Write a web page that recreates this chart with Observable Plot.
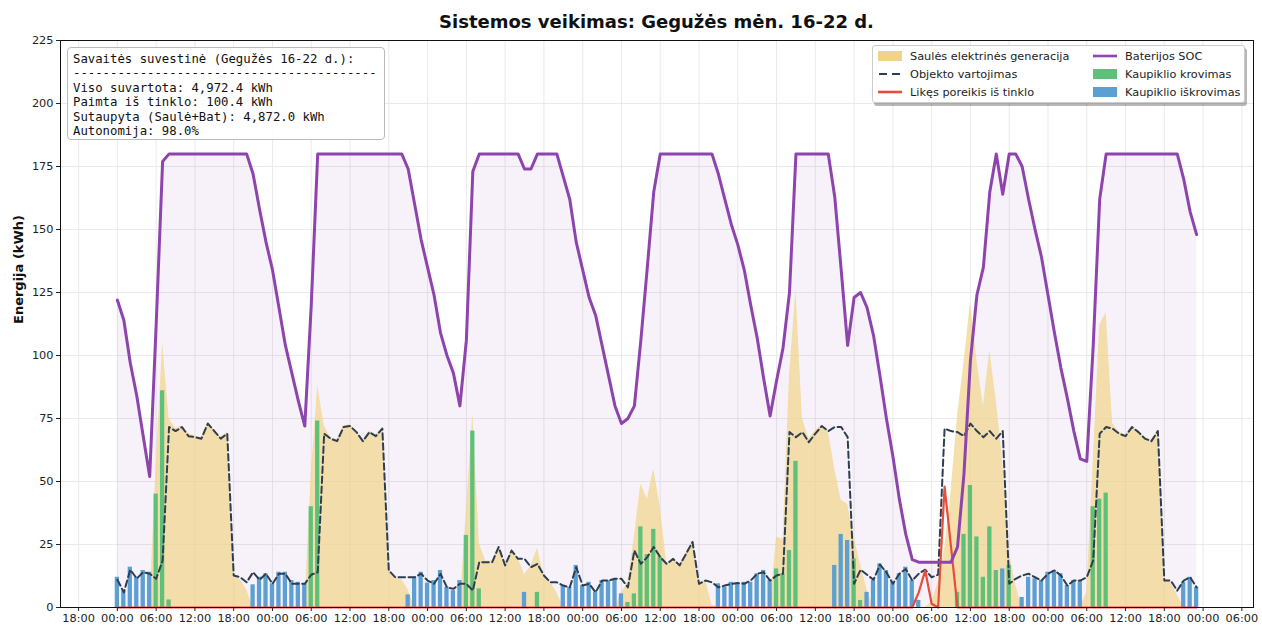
<!DOCTYPE html>
<html><head><meta charset="utf-8">
<script src="https://cdn.jsdelivr.net/npm/d3@7"></script>
<script src="https://cdn.jsdelivr.net/npm/@observablehq/plot@0.6"></script>
<style>
body{margin:0;background:#fff;font-family:"DejaVu Sans",sans-serif;}
#wrap{position:relative;width:1262px;height:625px;overflow:hidden;}
#title{height:32px;box-sizing:border-box;padding-top:10px;margin-left:60px;width:1193px;text-align:center;font-weight:bold;font-size:18px;line-height:24px;color:#111;white-space:nowrap;overflow:visible;}
#summary{position:absolute;left:67px;top:47px;width:318px;height:93px;box-sizing:border-box;border:1px solid #bbb;border-radius:4px;background:rgba(255,255,255,0.9);padding:4px 5px;font-family:"DejaVu Sans Mono",monospace;font-size:12.3px;line-height:14.4px;white-space:pre;color:#111;}
#legend{position:absolute;left:872px;top:45px;width:373px;height:58px;box-sizing:border-box;border:1px solid #ccc;border-radius:3px;background:#fff;box-shadow:2px 3px 0 rgba(0,0,0,0.28);font-size:11.3px;color:#222;}
.li{position:absolute;height:18px;display:flex;align-items:center;white-space:nowrap;}
.h{width:24px;height:18px;margin-right:8px;position:relative;}
</style></head><body>
<div id="wrap">
<div id="title"></div>
<div id="chart"></div>
<div id="summary"></div>
<div id="legend"></div>
</div>
<script>
// hourly values, 16-22 May (24 per row = one day)
const consumption = [
 11, 6, 15, 11.5, 14, 13.4, 11.4, 18.6, 71.6, 70, 71.6, 68, 67.6, 67, 73, 70, 67, 69, 12.7, 12, 10, 14, 11, 13.4,
 9.4, 13.4, 13.4, 9.4, 9.4, 9.4, 13, 14, 69, 67, 66, 71.6, 72, 69.6, 66, 69.6, 68, 71, 14.7, 12, 12, 12, 12, 13.4,
 10.7, 9.4, 13.4, 8, 7.4, 9.4, 9.4, 6.7, 18, 18, 18, 24, 16.7, 22.6, 19.3, 19.3, 16, 17.3, 12.7, 10, 10, 8.7, 8, 16,
 8.7, 9.4, 6, 10.7, 10.7, 11.4, 11.4, 8, 22.6, 17.3, 20, 24, 20, 17.3, 19.3, 16.7, 21.3, 26, 9.4, 10.7, 10, 8, 8.7, 9.4,
 9.7, 9.4, 10.7, 13.4, 14, 10.7, 12.7, 13.4, 69.6, 67.6, 69.6, 65.6, 69, 72, 70, 71.6, 71.6, 67.6, 9.4, 15, 13, 11, 17, 14,
 9.4, 13.4, 15.3, 10.7, 13.4, 15, 12, 13, 71, 70, 69.6, 68, 73, 70, 67.6, 70, 67, 70, 9.4, 11.4, 12.7, 13.4, 12, 10.7,
 13.4, 14.7, 12.7, 8.7, 10.7, 10.7, 12, 18.7, 69, 71.6, 71, 69, 68, 71.6, 69.6, 67, 66, 70, 10.7, 10.7, 6.7, 10.7, 12, 8
];
const solar = [
 0, 0, 0, 0, 0, 0, 56, 105, 75, 71, 72, 69, 68, 67.5, 73.5, 70.5, 67.5, 69.5, 12.7, 11, 7, 0, 0, 0,
 0, 0, 0, 0, 0, 0, 53, 88, 72, 67.5, 66.5, 72, 72.5, 70, 66.5, 70, 68.5, 71.5, 14.7, 12, 11, 7, 0, 0,
 0, 0, 0, 0, 0, 0, 38, 77, 25.4, 18.5, 18.5, 24.5, 17, 23, 19.5, 13, 16.5, 23.5, 12.7, 10, 6, 0, 0, 0,
 0, 0, 0, 0, 0, 0, 6, 10, 28, 49, 43, 55, 40, 17.5, 19.5, 17, 21.5, 26.5, 9.5, 11, 1, 0, 0, 0,
 0, 0, 0, 0, 0, 0, 28, 27, 92, 126, 75, 67, 70, 72.5, 70, 55, 42.6, 41, 28, 17, 7, 0, 0, 0,
 0, 0, 0, 0, 0, 0, 2, 10, 23, 46, 76, 97, 121, 98, 80, 102, 82, 58, 22, 9, 0, 0, 0, 0,
 0, 0, 0, 0, 0, 0, 6, 58, 112, 117, 73, 69.5, 68.5, 72, 70, 67.5, 66.5, 70.5, 10.7, 10, 5, 0, 0, 0
];
const charge = [
 0, 0, 0, 0, 0, 0, 45, 86, 3, 0, 0, 0, 0, 0, 0, 0, 0, 0, 0, 0, 0, 0, 0, 0,
 0, 0, 0, 0, 0, 0, 40, 74, 0, 0, 0, 0, 0, 0, 0, 0, 0, 0, 0, 0, 0, 0, 0, 0,
 0, 0, 0, 0, 0, 0, 28.6, 70, 7.4, 0, 0, 0, 0, 0, 0, 0, 0, 6, 0, 0, 0, 0, 0, 0,
 0, 0, 0, 0, 0, 0, 0, 2, 5.4, 32, 21, 31, 20, 0, 0, 0, 0, 0, 0, 0, 0, 0, 0, 0,
 0, 0, 0, 0, 0, 0, 15.3, 13.4, 22.6, 58, 0, 0, 0, 0, 0, 0, 0, 0, 19.3, 2.8, 0, 0, 0, 0,
 0, 0, 0, 0, 0, 0, 0, 0, 0, 0, 6, 29, 48.4, 28, 12, 32, 14.7, 0, 16.7, 0, 0, 0, 0, 0,
 0, 0, 0, 0, 0, 0, 0, 40, 43, 45.4, 0, 0, 0, 0, 0, 0, 0, 0, 0, 0, 0, 0, 0, 0
];
const discharge = [
 12, 6.5, 16, 12, 14.7, 14, 0, 0, 0, 0, 0, 0, 0, 0, 0, 0, 0, 0, 0, 0, 0, 9, 12, 13.4,
 9.4, 14, 14, 10.7, 10, 9.4, 0, 0, 0, 0, 0, 0, 0, 0, 0, 0, 0, 0, 0, 0, 0, 5, 12, 14,
 9.7, 10.7, 14.7, 8, 6.7, 10.7, 0, 0, 0, 0, 0, 0, 0, 0, 0, 6, 0, 0, 0, 0, 0, 8.7, 8, 16.7,
 8.7, 10, 6, 10.7, 10.7, 11.4, 5.4, 0, 0, 0, 0, 0, 0, 0, 0, 0, 0, 0, 0, 0, 0, 9.4, 8, 10,
 9.4, 10, 10, 13.4, 14.7, 10.7, 0, 0, 0, 0, 0, 0, 0, 0, 0, 16.7, 29, 26.6, 0, 0, 6, 10.7, 17.3, 14.7,
 10, 13.4, 16, 10.7, 2.8, 0, 0, 0, 0, 0, 0, 0, 0, 0, 0, 0, 0, 15.3, 0, 0, 4, 12, 11.4, 10.7,
 14, 14.7, 13.4, 8.7, 10.7, 10.7, 0, 0, 0, 0, 0, 0, 0, 0, 0, 0, 0, 0, 0, 0, 0, 10, 12, 8
];
const gridDraw = [
 0, 0, 0, 0, 0, 0, 0, 0, 0, 0, 0, 0, 0, 0, 0, 0, 0, 0, 0, 0, 0, 0, 0, 0,
 0, 0, 0, 0, 0, 0, 0, 0, 0, 0, 0, 0, 0, 0, 0, 0, 0, 0, 0, 0, 0, 0, 0, 0,
 0, 0, 0, 0, 0, 0, 0, 0, 0, 0, 0, 0, 0, 0, 0, 0, 0, 0, 0, 0, 0, 0, 0, 0,
 0, 0, 0, 0, 0, 0, 0, 0, 0, 0, 0, 0, 0, 0, 0, 0, 0, 0, 0, 0, 0, 0, 0, 0,
 0, 0, 0, 0, 0, 0, 0, 0, 0, 0, 0, 0, 0, 0, 0, 0, 0, 0, 0, 0, 0, 0, 0, 0,
 0, 0, 0, 0, 6, 14.7, 1.5, 0, 48, 24, 0, 0, 0, 0, 0, 0, 0, 0, 0, 0, 0, 0, 0, 0,
 0, 0, 0, 0, 0, 0, 0, 0, 0, 0, 0, 0, 0, 0, 0, 0, 0, 0, 0, 0, 0, 0, 0, 0
];
const soc = [
 122, 114, 97, 84, 68, 52, 112, 177, 180, 180, 180, 180, 180, 180, 180, 180, 180, 180, 180, 180, 180, 172, 158, 145,
 134, 119, 104, 93, 82, 72, 120, 180, 180, 180, 180, 180, 180, 180, 180, 180, 180, 180, 180, 180, 180, 174, 160, 146,
 135, 124, 109, 100, 93, 80, 106, 173, 180, 180, 180, 180, 180, 180, 180, 174, 174, 180, 180, 180, 180, 171, 162, 145,
 134, 123, 116, 104, 92, 80, 73, 75, 80, 106, 135, 165, 180, 180, 180, 180, 180, 180, 180, 180, 180, 172, 162, 152,
 144, 134, 120, 107, 91, 76, 90, 103, 125, 180, 180, 180, 180, 180, 180, 163, 134, 104, 123, 125, 119, 108, 92, 75,
 60, 43, 29, 19, 18, 18, 18, 18, 18, 18, 24, 53, 98, 124, 135, 165, 180, 164, 180, 180, 175, 162, 150, 139,
 124, 109, 95, 83, 70, 59, 58, 104, 162, 180, 180, 180, 180, 180, 180, 180, 180, 180, 180, 180, 180, 170, 157, 148
];
const hourLabels = ["00:00", "06:00", "12:00", "18:00"];
const yTickValues = [0, 25, 50, 75, 100, 125, 150, 175, 200, 225];
const xTickHours = [-6, 0, 6, 12, 18, 24, 30, 36, 42, 48, 54, 60, 66, 72, 78, 84, 90, 96, 102, 108, 114, 120, 126, 132, 138, 144, 150, 156, 162, 168, 174];
const summaryLines = [
 "Savaitės suvestinė (Gegužės 16-22 d.):",
 "-----------------------------------------",
 "Viso suvartota: 4,972.4 kWh",
 "Paimta iš tinklo: 100.4 kWh",
 "Sutaupyta (Saulė+Bat): 4,872.0 kWh",
 "Autonomija: 98.0%"
];
const titleText = "Sistemos veikimas: Gegužės mėn. 16-22 d.";
const yLabel = "Energija (kWh)";

const C = {solar:"#f1d48a", cons:"#2c3e50", grid:"#e74c3c", soc:"#8e44ad", chg:"#5fc079", dis:"#5c9fd2"};

const rows = consumption.map((c, i) => ({t: i, consumption: c, solar: solar[i], charge: charge[i], discharge: discharge[i], grid: gridDraw[i], soc: soc[i]}));
const bw = 0.33;

const chart = Plot.plot({
  width: 1262, height: 593,
  marginTop: 8, marginBottom: 18, marginLeft: 60, marginRight: 9,
  style: {fontFamily: "DejaVu Sans", fontSize: "11px", color: "#222", background: "#fff"},
  x: {domain: [-8.8, 175.8]},
  y: {domain: [0, 225]},
  marks: [
    Plot.gridX(xTickHours, {stroke: "#e4e4e4", strokeOpacity: 1, strokeWidth: 0.8}),
    Plot.gridY(yTickValues, {stroke: "#e4e4e4", strokeOpacity: 1, strokeWidth: 0.8}),
    Plot.areaY(rows, {x: "t", y: "soc", fill: C.soc, fillOpacity: 0.07}),
    Plot.areaY(rows, {x: "t", y: "solar", fill: C.solar, fillOpacity: 0.72}),
    Plot.rectY(rows.filter(d => d.charge > 0), {x1: d => d.t - bw, x2: d => d.t + bw, y: "charge", fill: C.chg}),
    Plot.rectY(rows.filter(d => d.discharge > 0), {x1: d => d.t - bw, x2: d => d.t + bw, y: "discharge", fill: C.dis}),
    Plot.lineY(rows, {x: "t", y: "consumption", stroke: C.cons, strokeWidth: 2, strokeDasharray: "6.5,3.5"}),
    Plot.lineY(rows, {x: "t", y: "grid", stroke: C.grid, strokeWidth: 2.2}),
    Plot.lineY(rows, {x: "t", y: "soc", stroke: C.soc, strokeWidth: 3}),
    Plot.frame({stroke: "#111", strokeWidth: 1}),
    Plot.axisX({ticks: xTickHours, tickFormat: t => hourLabels[((t / 6) % 4 + 4) % 4], tickSize: 4, tickPadding: 2, label: null, fontSize: 11.3}),
    Plot.axisY({ticks: yTickValues, tickSize: 4, tickPadding: 3, label: null, fontSize: 11.3}),
    Plot.text([yLabel], {frameAnchor: "left", text: d => d, rotate: -90, dx: -42, fontWeight: "bold", fontSize: 13, fill: "#111"})
  ]
});
document.getElementById("chart").appendChild(chart);
document.getElementById("title").textContent = titleText;
document.getElementById("summary").textContent = summaryLines.join("\n");

const legendItems = [
  {label: "Saulės elektrinės generacija", kind: "patch", color: C.solar, col: 0, row: 0},
  {label: "Objekto vartojimas", kind: "dash", color: C.cons, col: 0, row: 1},
  {label: "Likęs poreikis iš tinklo", kind: "line", color: C.grid, col: 0, row: 2},
  {label: "Baterijos SOC", kind: "line", color: C.soc, col: 1, row: 0},
  {label: "Kaupiklio krovimas", kind: "patch", color: C.chg, col: 1, row: 1},
  {label: "Kaupiklio iškrovimas", kind: "patch", color: C.dis, col: 1, row: 2}
];
const leg = document.getElementById("legend");
legendItems.forEach(it => {
  const d = document.createElement("div");
  d.className = "li";
  d.style.left = (it.col ? 220 : 5) + "px";
  d.style.top = (1 + it.row * 18) + "px";
  let h;
  if (it.kind === "patch") h = `<svg class="h" width="24" height="18"><rect x="0" y="4" width="24" height="10" fill="${it.color}"/></svg>`;
  else if (it.kind === "dash") h = `<svg class="h" width="24" height="18"><line x1="1" x2="23" y1="9" y2="9" stroke="${it.color}" stroke-width="2" stroke-dasharray="8,5"/></svg>`;
  else h = `<svg class="h" width="24" height="18"><line x1="0" x2="24" y1="9" y2="9" stroke="${it.color}" stroke-width="2.6"/></svg>`;
  d.innerHTML = h + `<span>${it.label}</span>`;
  leg.appendChild(d);
});
</script>
</body></html>
